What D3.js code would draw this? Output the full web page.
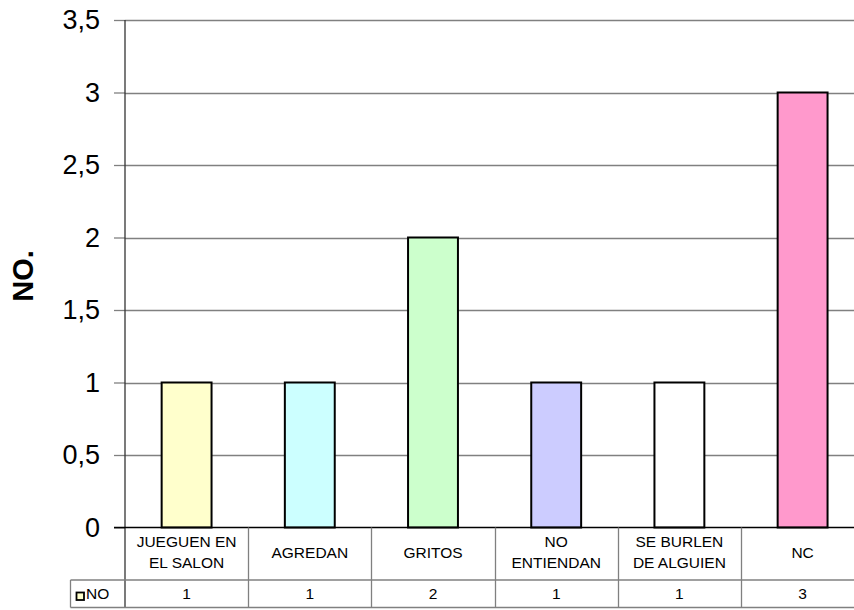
<!DOCTYPE html>
<html>
<head>
<meta charset="utf-8">
<script src="https://cdn.jsdelivr.net/npm/d3@7"></script>
<style>
html,body{margin:0;padding:0;background:#fff;}
svg{display:block;}
text{font-family:"Liberation Sans", Arial, sans-serif;}
</style>
</head>
<body>
<svg id="chart" width="854" height="610"></svg>
<script>
const categories = [["JUEGUEN EN","EL SALON"],["AGREDAN"],["GRITOS"],["NO","ENTIENDAN"],["SE BURLEN","DE ALGUIEN"],["NC"]];
const categoryKeys = ["JUEGUEN EN EL SALON","AGREDAN","GRITOS","NO ENTIENDAN","SE BURLEN DE ALGUIEN","NC"];
const values = [1, 1, 2, 1, 1, 3];
const barColors = ["#FFFFCC","#CCFFFF","#CCFFCC","#CCCCFF","#FFFFFF","#FF99CC"];
const yTicks = [0, 0.5, 1, 1.5, 2, 2.5, 3, 3.5];
const seriesName = "NO";
const yTitle = "NO.";

const svg = d3.select("#chart");
const mLeft = 125, mRight = 864.2, mTop = 20, mBottom = 527.5;
const rowSep = 580, tableBottom = 607.5, legendLeft = 70.5;

const x = d3.scaleBand().domain(categoryKeys).range([mLeft, mRight]).paddingInner(0).paddingOuter(0);
const y = d3.scaleLinear().domain([0, 3.5]).range([mBottom, mTop]);
const fmt = v => String(v).replace(".", ",");

// gridlines
svg.append("g").selectAll("line").data(yTicks.filter(t => t > 0)).join("line")
  .attr("x1", mLeft).attr("x2", mRight)
  .attr("y1", d => Math.round(y(d)) + 0.5).attr("y2", d => Math.round(y(d)) + 0.5)
  .attr("stroke", "#808080").attr("stroke-width", 1.3);

// y axis
const yAxis = d3.axisLeft(y).tickValues(yTicks).tickFormat(fmt).tickSize(11).tickPadding(14);
const ya = svg.append("g").attr("transform", `translate(${mLeft},0)`).call(yAxis);
ya.select(".domain").remove();
ya.selectAll(".tick line").attr("stroke", "#808080").attr("stroke-width", 1.3);
ya.selectAll(".tick text").attr("font-size", 27).attr("fill", "#000")
  .attr("font-family", "'Liberation Sans', Arial, sans-serif");

// y axis line
svg.append("line").attr("x1", mLeft).attr("x2", mLeft).attr("y1", mTop).attr("y2", tableBottom)
  .attr("stroke", "#333").attr("stroke-width", 1.3);

// bars
const bw = x.bandwidth();
const barW = bw * 0.405;
svg.append("g").selectAll("rect").data(values).join("rect")
  .attr("x", (d, i) => x(categoryKeys[i]) + (bw - barW) / 2)
  .attr("y", d => y(d))
  .attr("width", barW)
  .attr("height", d => y(0) - y(d))
  .attr("fill", (d, i) => barColors[i])
  .attr("stroke", "#000").attr("stroke-width", 2);

// x axis line
svg.append("line").attr("x1", 114).attr("x2", mRight).attr("y1", mBottom).attr("y2", mBottom)
  .attr("stroke", "#000").attr("stroke-width", 1.6);

// data table lines
const tg = svg.append("g");
tg.append("line").attr("x1", legendLeft).attr("x2", mRight).attr("y1", rowSep).attr("y2", rowSep)
  .attr("stroke", "#808080").attr("stroke-width", 1.3);
tg.append("line").attr("x1", legendLeft).attr("x2", mRight).attr("y1", tableBottom).attr("y2", tableBottom)
  .attr("stroke", "#808080").attr("stroke-width", 1.3);
tg.append("line").attr("x1", legendLeft).attr("x2", legendLeft).attr("y1", rowSep).attr("y2", tableBottom)
  .attr("stroke", "#808080").attr("stroke-width", 1.3);
tg.selectAll("line.sep").data(categoryKeys.slice(1)).join("line").attr("class", "sep")
  .attr("x1", d => Math.round(x(d)) + 0.5).attr("x2", d => Math.round(x(d)) + 0.5)
  .attr("y1", mBottom).attr("y2", tableBottom)
  .attr("stroke", "#808080").attr("stroke-width", 1.3);

// category labels
const catG = svg.append("g");
categories.forEach((lines, i) => {
  const cx = x(categoryKeys[i]) + bw / 2;
  const cy = (mBottom + rowSep) / 2 - 1.5;
  const lh = 20.5;
  lines.forEach((ln, j) => {
    catG.append("text").attr("x", cx)
      .attr("y", cy + (j - (lines.length - 1) / 2) * lh)
      .attr("dy", "0.35em").attr("text-anchor", "middle")
      .attr("font-size", 15.5).attr("fill", "#000").text(ln);
  });
});

// data row values
svg.append("g").selectAll("text").data(values).join("text")
  .attr("x", (d, i) => x(categoryKeys[i]) + bw / 2)
  .attr("y", (rowSep + tableBottom) / 2).attr("dy", "0.35em")
  .attr("text-anchor", "middle").attr("font-size", 15.5).attr("fill", "#000")
  .text(d => d);

// legend key in table
svg.append("rect").attr("x", 76.5).attr("y", 592.5).attr("width", 7.5).attr("height", 7.5)
  .attr("fill", barColors[0]).attr("stroke", "#000").attr("stroke-width", 1.8);
svg.append("text").attr("x", 86).attr("y", (rowSep + tableBottom) / 2).attr("dy", "0.35em")
  .attr("font-size", 15.5).attr("fill", "#000").text(seriesName);

// y title
svg.append("text").attr("transform", `translate(33,276) rotate(-90)`)
  .attr("text-anchor", "middle").attr("font-size", 29).attr("font-weight", "bold")
  .attr("fill", "#000").text(yTitle);
</script>
</body>
</html>
